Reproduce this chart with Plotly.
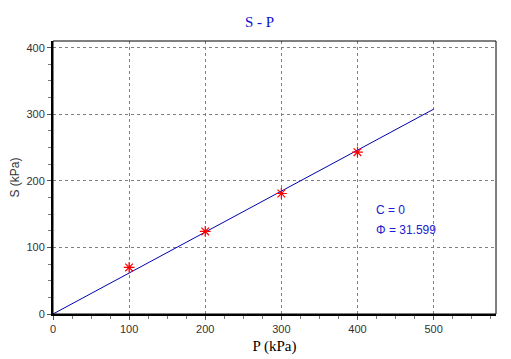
import plotly.graph_objects as go
import math

P = [100, 200, 300, 400]
S = [70, 124, 181, 243]
line_x = [0, 500]
phi_deg = 31.599
c_val = 0
line_y = [c_val + x * math.tan(math.radians(phi_deg)) for x in line_x]

fig = go.Figure()
fig.add_trace(go.Scatter(x=line_x, y=line_y, mode="lines",
                         line=dict(color="#0000b0", width=1), hoverinfo="skip"))
fig.add_trace(go.Scatter(x=P, y=S, mode="markers",
                         marker=dict(symbol="asterisk-open", size=9,
                                     line=dict(color="#ff0000", width=1.2), color="#ff0000")))

axfont = dict(family="Liberation Sans, Arial", size=11, color="#333333")
common = dict(showline=True, linecolor="black", linewidth=2, mirror=False,
              ticks="outside", ticklen=4, tickcolor="#555555", tickfont=axfont,
              showgrid=True, gridcolor="#808080", griddash="3px,3px", gridwidth=1,
              zeroline=False, dtick=100, tick0=0, automargin=False)

fig.update_xaxes(range=[0, 582], **common,
                 minor=dict(ticks="outside", ticklen=3, dtick=25, tickcolor="#777777", showgrid=False),
                 title=dict(text="P (kPa)", font=dict(family="Liberation Serif", size=15, color="black"), standoff=6))
fig.update_yaxes(range=[0, 410], **common,
                 minor=dict(ticks="outside", ticklen=3, dtick=25, tickcolor="#777777", showgrid=False),
                 title=dict(text="S (kPa)", font=dict(family="Liberation Sans", size=12, color="#333333"), standoff=14))

fig.add_shape(type="rect", xref="paper", yref="paper", x0=0, y0=0, x1=1, y1=1,
              line=dict(color="black", width=1), layer="above")

annfont = dict(family="Liberation Sans", size=12, color="#2020d0")
fig.add_annotation(x=422, y=156, text="C = %d" % c_val, showarrow=False, xanchor="left", font=annfont)
fig.add_annotation(x=422, y=126, text="Φ = %.3f" % phi_deg, showarrow=False, xanchor="left", font=annfont)

fig.update_layout(
    width=503, height=351,
    margin=dict(l=45, r=15, t=33, b=45),
    paper_bgcolor="white", plot_bgcolor="white",
    showlegend=False,
    title=dict(text="S - P", x=0.5, xanchor="center", y=1 - 14/351, yanchor="middle",
               font=dict(family="Liberation Serif", size=15, color="#1010d0")),
)

fig.write_html("out.html")
